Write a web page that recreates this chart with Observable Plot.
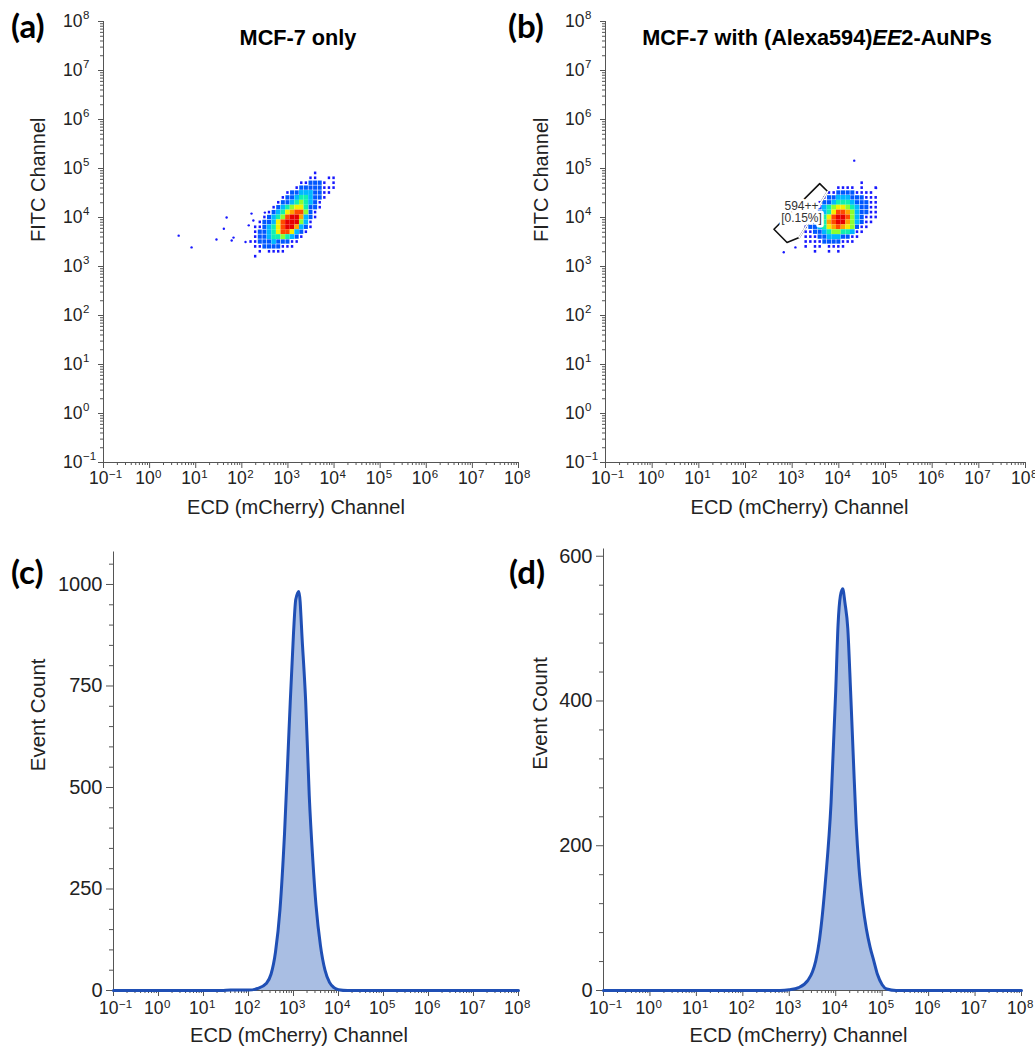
<!DOCTYPE html>
<html><head><meta charset="utf-8">
<script src="https://cdn.jsdelivr.net/npm/d3@7"></script>
<script src="https://cdn.jsdelivr.net/npm/@observablehq/plot@0.6"></script>
<style>
body{margin:0;background:#fff;}
#root{position:relative;width:1035px;height:1046px;overflow:hidden;background:#fff;font-family:"Liberation Sans",Arial,sans-serif;}
.panel{position:absolute;}
.panel svg{overflow:visible;display:block;}
.panel svg text{font-family:"Liberation Sans",Arial,sans-serif !important;}
.lbl{position:absolute;font-family:Lato,"Open Sans",sans-serif;font-weight:700;font-size:33px;line-height:1;color:#000;}
.ttl{position:absolute;font-family:"Liberation Sans",Arial,sans-serif;font-weight:700;font-size:21.7px;color:#000;white-space:nowrap;transform:translate(-50%,-50%);line-height:1;}
</style></head>
<body><div id="root"></div>
<script>
// ---------------- DATA ----------------
const tickExponents = [-1, 0, 1, 2, 3, 4, 5, 6, 7, 8];
const minorMultipliers = [2, 3, 4, 5, 6, 7, 8, 9];

const titleA = "MCF-7 only";
const titleB = "MCF-7 with (Alexa594)<i>EE</i>2-AuNPs";
const xTitle = "ECD (mCherry) Channel";
const yTitleScatter = "FITC Channel";
const yTitleHist = "Event Count";
const panelLetters = ["(a)", "(b)", "(c)", "(d)"];

// density level colours (jet-like), index = density level
const levelColors = [null, "#1818ff", "#0058ff", "#00b8ff", "#10f0b0", "#8cff30", "#f4f000", "#ffa400", "#ff4a00", "#e60000"];

// (a) density grid: columns log10(ECD) from 2.2 step 0.1, rows log10(FITC) from 4.9 down step 0.1
const densityA_logECD0 = 2.2;
const densityA_logFITCtop = 4.9;
const densityA = [
  "00000000000000100000",
  "00000000000001100110",
  "00000000000112221010",
  "00000000001222221110",
  "00000000122333221100",
  "00000001223443221000",
  "00000012234543210000",
  "00000123456642210000",
  "00001234678852100000",
  "00012345899732100000",
  "00122368999531000000",
  "01123468997321000000",
  "01223468863210000000",
  "01223445432100000000",
  "11222322211000000000",
  "01122221110000000000",
  "00101111000000000000",
  "01000000000000000000"
];
const outlierA_logECD  = [0.63, 0.91, 1.45, 1.61, 1.67, 1.78, 1.82, 2.08, 2.15, 2.21, 2.25, 2.5];
const outlierA_logFITC = [3.63, 3.39, 3.55, 3.77, 4.0, 3.53, 3.59, 3.5, 3.84, 4.08, 3.94, 4.1];

// (b) density grid: columns log10(ECD) from 3.3 step 0.1, rows log10(FITC) from 4.7 down
const densityB_logECD0 = 3.3;
const densityB_logFITCtop = 4.7;
const densityB = [
  "00000000000010000",
  "00000001111010010",
  "00000112222111100",
  "00001223332221110",
  "00012234443222110",
  "00123456654322110",
  "00123468875322110",
  "01224689985321110",
  "01234789975321100",
  "12234678765211000",
  "11223455443110000",
  "11122333221100000",
  "11112222111000000",
  "10110111100000000",
  "00100101000000000"
];
const outlierB_logECD  = [4.33, 2.82, 3.07, 4.8];
const outlierB_logFITC = [5.16, 3.29, 3.39, 4.6];
// gate 594++ (polygon vertices, log10 units)
const gateB_logECD  = [2.61, 2.89, 3.15, 3.76, 3.59, 2.61];
const gateB_logFITC = [3.76, 3.49, 3.59, 4.53, 4.69, 3.76];
const gateLabel = "594++\n[0.15%]";

// (c) histogram, MCF-7 only
const histC_logECD = [-1, 1.4, 1.6, 1.8, 2.0, 2.2, 2.4, 2.5, 2.6, 2.7, 2.8, 2.9, 3.0, 3.05, 3.12, 3.2, 3.27, 3.35, 3.43, 3.5, 3.6, 3.7, 3.8, 3.9, 4.0, 4.2, 8];
const histC_count  = [0, 0, 1, 1, 1, 5, 18, 40, 95, 200, 385, 640, 880, 963, 983, 850, 714, 480, 320, 210, 110, 50, 20, 7, 2, 0, 0];
const histC_yTicks = [0, 250, 500, 750, 1000];
const histC_yMinor = [50, 100, 150, 200, 300, 350, 400, 450, 550, 600, 650, 700, 800, 850, 900, 950, 1050];

// (d) histogram, with (Alexa594)EE2-AuNPs
const histD_logECD = [-1, 2.8, 3.0, 3.2, 3.4, 3.5, 3.57, 3.65, 3.78, 3.9, 4.0, 4.05, 4.1, 4.15, 4.2, 4.26, 4.32, 4.38, 4.44, 4.5, 4.58, 4.66, 4.74, 4.82, 4.9, 5.0, 5.1, 5.3, 8];
const histD_count  = [0, 0, 1, 4, 14, 26, 41, 70, 152, 260, 414, 505, 545, 555, 535, 500, 414, 320, 230, 170, 120, 85, 60, 41, 22, 8, 2, 0, 0];
const histD_yTicks = [0, 200, 400, 600];
const histD_yMinor = [40, 80, 120, 160, 240, 280, 320, 360, 440, 480, 520, 560];

// ---------------- DRAWING ----------------
const BIN = 0.1;
const axisColor = "#555";
const textColor = "#222";
const histFill = "#a9bee3";
const histStroke = "#1f4fb5";
const majorVals = tickExponents.map(e => 10 ** e);
const minorVals = tickExponents.slice(0, -1).flatMap(e => minorMultipliers.map(k => k * 10 ** e));
const supText = e => e < 0 ? "\u2212" + (-e) : String(e);
const fontFamily = "'Liberation Sans', Arial, sans-serif";

function buildCells(rows, x0, yTop) {
  const out = [];
  rows.forEach((row, i) => {
    for (let j = 0; j < row.length; j++) {
      const level = +row[j];
      if (level > 0) out.push({lx: x0 + j * BIN, ly: yTop - i * BIN, level});
    }
  });
  return out;
}

function xLogAxis(dyLabel, titleDx) {
  return [
    Plot.axisX(majorVals, {tickSize: 6, tickFormat: () => "", label: null, color: axisColor}),
    Plot.axisX(minorVals, {tickSize: 3, tickFormat: () => "", label: null, color: axisColor}),
    Plot.text(tickExponents, {x: e => 10 ** e, text: () => "10", frameAnchor: "bottom", dy: dyLabel, dx: 5, textAnchor: "end", fontSize: 17.5, fill: textColor}),
    Plot.text(tickExponents, {x: e => 10 ** e, text: supText, frameAnchor: "bottom", dy: dyLabel - 6, dx: 5.5, textAnchor: "start", fontSize: 11.5, fill: textColor}),
    Plot.text([xTitle], {text: d => d, frameAnchor: "bottom", dy: 51, dx: titleDx, fontSize: 20, fill: textColor})
  ];
}

function scatterPanel(cfg) {
  const cells = buildCells(cfg.rows, cfg.x0, cfg.yTop);
  const h = BIN / 2;
  const R = {x1: d => 10 ** (d.lx - h), x2: d => 10 ** (d.lx + h), y1: d => 10 ** (d.ly - h), y2: d => 10 ** (d.ly + h)};
  const idx = d3.range(cfg.outX.length);
  return Plot.plot({
    width: cfg.width, height: 520,
    marginLeft: cfg.marginLeft, marginRight: cfg.marginRight, marginTop: 21, marginBottom: 58,
    x: {type: "log", domain: [0.1, 1e8]},
    y: {type: "log", domain: [0.1, 1e8]},
    color: {type: "identity"},
    style: {fontFamily, background: "transparent", overflow: "visible", color: textColor},
    marks: [
      Plot.rect(cells.filter(d => d.level === 1), {...R, fill: levelColors[1], inset: 1.1}),
      Plot.rect(cells.filter(d => d.level === 2), {...R, fill: levelColors[2], inset: 0.3}),
      Plot.rect(cells.filter(d => d.level >= 3), {...R, fill: d => levelColors[d.level]}),
      Plot.dot(idx, {x: i => 10 ** cfg.outX[i], y: i => 10 ** cfg.outY[i], r: 1.2, fill: levelColors[1]}),
      ...(cfg.extra || []),
      Plot.ruleX([0.1], {stroke: axisColor}),
      Plot.ruleY([0.1], {stroke: axisColor}),
      Plot.axisY(majorVals, {tickSize: 5, tickFormat: () => "", label: null, color: axisColor}),
      Plot.axisY(minorVals, {tickSize: 3, tickFormat: () => "", label: null, color: axisColor}),
      Plot.text(tickExponents, {y: e => 10 ** e, text: () => "10", frameAnchor: "left", dx: -21, textAnchor: "end", fontSize: 17.5, fill: textColor}),
      Plot.text(tickExponents, {y: e => 10 ** e, text: supText, frameAnchor: "left", dx: -20.5, dy: -6, textAnchor: "start", fontSize: 11.5, fill: textColor}),
      Plot.text([yTitleScatter], {text: d => d, frameAnchor: "left", dx: cfg.yTitleDx, rotate: -90, fontSize: 20, fill: textColor}),
      ...xLogAxis(21, cfg.titleDx)
    ]
  });
}

function histPanel(cfg) {
  const idx = d3.range(cfg.logx.length);
  const X = i => 10 ** cfg.logx[i];
  const Y = i => cfg.count[i];
  return Plot.plot({
    width: cfg.width, height: 516,
    marginLeft: cfg.marginLeft, marginRight: cfg.marginRight, marginTop: cfg.marginTop, marginBottom: 56,
    x: {type: "log", domain: [0.1, 1e8]},
    y: {domain: [0, cfg.yMax]},
    style: {fontFamily, background: "transparent", overflow: "visible", color: textColor},
    marks: [
      Plot.areaY(idx, {x: X, y: Y, fill: histFill, curve: "monotone-x"}),
      Plot.ruleX([0.1], {stroke: axisColor}),
      Plot.ruleY([0], {stroke: axisColor}),
      Plot.axisY(cfg.yTicks, {tickSize: 7, tickFormat: () => "", label: null, color: axisColor}),
      Plot.axisY(cfg.yMinor, {tickSize: 4, tickFormat: () => "", label: null, color: axisColor}),
      Plot.text(cfg.yTicks, {y: d => d, text: d => String(d), frameAnchor: "left", dx: -11, textAnchor: "end", fontSize: 20, fill: textColor}),
      ...xLogAxis(23, cfg.titleDx),
      Plot.lineY(idx, {x: X, y: Y, stroke: histStroke, strokeWidth: 3, curve: "monotone-x"}),
      Plot.text([yTitleHist], {text: d => d, frameAnchor: "left", dx: cfg.yTitleDx, rotate: -90, fontSize: 20.5, fill: textColor})
    ]
  });
}

const gIdx = d3.range(gateB_logECD.length);
const gateCx = d3.mean(gateB_logECD.slice(0, -1));
const gateCy = d3.mean(gateB_logFITC.slice(0, -1));
const gateExtra = [
  Plot.line(gIdx, {x: i => 10 ** gateB_logECD[i], y: i => 10 ** gateB_logFITC[i], stroke: "#111", strokeWidth: 1.6}),
  Plot.line([2, 3], {x: i => 10 ** gateB_logECD[i], y: i => 10 ** gateB_logFITC[i], stroke: "#fff", strokeWidth: 1.6}),
  Plot.text([gateLabel], {x: () => 10 ** gateCx, y: () => 10 ** (gateCy + 0.09), text: d => d, fontSize: 12, fill: "#333", stroke: "#fff", strokeWidth: 5, paintOrder: "stroke", lineHeight: 1.0})
];

const root = document.getElementById("root");
function place(node, left, top) {
  const div = document.createElement("div");
  div.className = "panel";
  div.style.left = left + "px";
  div.style.top = top + "px";
  div.appendChild(node);
  root.appendChild(div);
}

place(scatterPanel({rows: densityA, x0: densityA_logECD0, yTop: densityA_logFITCtop, outX: outlierA_logECD, outY: outlierA_logFITC,
  width: 520, marginLeft: 103, marginRight: 2, titleDx: -15, yTitleDx: -65}), 0, 0);
place(scatterPanel({rows: densityB, x0: densityB_logECD0, yTop: densityB_logFITCtop, outX: outlierB_logECD, outY: outlierB_logFITC,
  width: 515, marginLeft: 85, marginRight: 10, titleDx: -16, yTitleDx: -64, extra: gateExtra}), 520, 0);
place(histPanel({logx: histC_logECD, count: histC_count, yTicks: histC_yTicks, yMinor: histC_yMinor, yMax: 1080,
  width: 520, marginLeft: 113, marginRight: 2, marginTop: 21.5, titleDx: -17, yTitleDx: -75}), 0, 530);
place(histPanel({logx: histD_logECD, count: histD_count, yTicks: histD_yTicks, yMinor: histD_yMinor, yMax: 610,
  width: 515, marginLeft: 83, marginRight: 14, marginTop: 18.5, titleDx: -14, yTitleDx: -63}), 520, 530);

function addTitle(html, cx, cy) {
  const d = document.createElement("div");
  d.className = "ttl";
  d.innerHTML = html;
  d.style.left = cx + "px";
  d.style.top = cy + "px";
  root.appendChild(d);
}
addTitle(titleA, 298, 38);
addTitle(titleB, 817, 38);

const letterPos = [[11, 9], [508, 9], [11, 555], [509, 555]];
panelLetters.forEach((t, i) => {
  const d = document.createElement("div");
  d.className = "lbl";
  d.textContent = t;
  d.style.left = letterPos[i][0] + "px";
  d.style.top = letterPos[i][1] + "px";
  root.appendChild(d);
});
</script>
</body></html>
